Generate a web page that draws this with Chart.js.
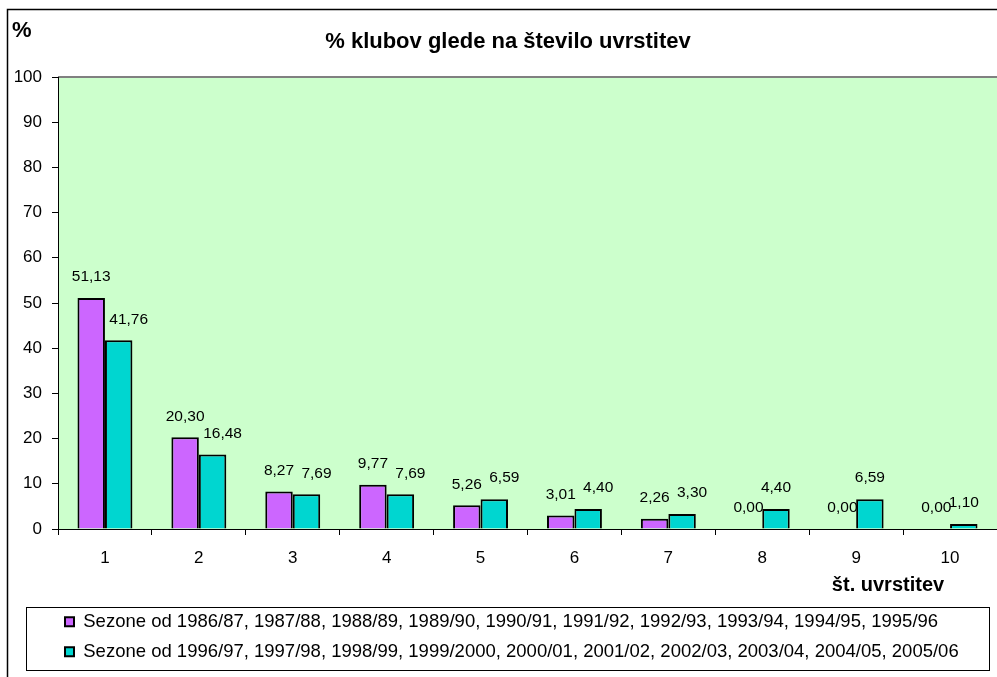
<!DOCTYPE html>
<html>
<head>
<meta charset="utf-8">
<script src="https://cdn.jsdelivr.net/npm/chart.js@4/dist/chart.umd.min.js"></script>
<style>
html,body{margin:0;padding:0;background:#fff;}
canvas{display:block;}
</style>
</head>
<body>
<canvas id="c" width="997" height="677"></canvas>
<script>
// ---- data ----
const categories = ['1','2','3','4','5','6','7','8','9','10'];
const seriesNames = [
  'Sezone od 1986/87, 1987/88, 1988/89, 1989/90, 1990/91, 1991/92, 1992/93, 1993/94, 1994/95, 1995/96',
  'Sezone od 1996/97, 1997/98, 1998/99, 1999/2000, 2000/01, 2001/02, 2002/03, 2003/04, 2004/05, 2005/06'
];
const valuesOlder = [51.13, 20.30, 8.27, 9.77, 5.26, 3.01, 2.26, 0.00, 0.00, 0.00];
const valuesNewer = [41.76, 16.48, 7.69, 7.69, 6.59, 4.40, 3.30, 4.40, 6.59, 1.10];
const yMin = 0, yMax = 100, yStep = 10;
const chartTitle = '% klubov glede na število uvrstitev';
const yAxisTitle = '%';
const xAxisTitle = 'št. uvrstitev';

const FONT = "'Liberation Sans', Arial, sans-serif";
Chart.defaults.font.family = FONT;
Chart.defaults.color = '#000';

const fmt = v => v.toFixed(2).replace('.', ',');

const framePlugin = {
  id: 'frame',
  afterLayout(chart) {
    if (chart.legend) chart.legend.left = 53.5;
    if (chart.titleBlock) chart.titleBlock.left = 19;
  },
  beforeDraw(chart) {
    const {ctx, chartArea: a} = chart;
    ctx.save();
    ctx.fillStyle = '#fff';
    ctx.fillRect(0, 0, chart.width, chart.height);
    ctx.fillStyle = '#CCFFCC';
    ctx.fillRect(a.left, a.top, a.right - a.left, a.bottom - a.top);
    ctx.strokeStyle = '#808080';
    ctx.lineWidth = 2;
    ctx.beginPath();
    ctx.moveTo(a.left, a.top);
    ctx.lineTo(a.right, a.top);
    ctx.stroke();
    // outer frame
    ctx.strokeStyle = '#000';
    ctx.lineWidth = 1.5;
    ctx.beginPath();
    ctx.moveTo(7.5, chart.height);
    ctx.lineTo(7.5, 9.5);
    ctx.lineTo(chart.width, 9.5);
    ctx.stroke();
    ctx.restore();
  },
  afterDatasetsDraw(chart) {
    const ctx = chart.ctx;
    ctx.save();
    ctx.font = '15.5px ' + FONT;
    ctx.fillStyle = '#000';
    ctx.textAlign = 'center';
    ctx.textBaseline = 'middle';
    const first = chart.data.datasets[0].data;
    chart.data.datasets.forEach((ds, i) => {
      const meta = chart.getDatasetMeta(i);
      meta.data.forEach((el, j) => {
        // second-series labels are nudged right when the neighbouring label exists
        const dx = (i === 1 && first[j] > 0) ? 10 : 0;
        ctx.fillText(fmt(ds.data[j]), el.x + dx, el.y - 21);
      });
    });
    ctx.restore();
  },
  afterDraw(chart) {
    const ctx = chart.ctx;
    ctx.save();
    ctx.fillStyle = '#000';
    ctx.textBaseline = 'middle';
    ctx.font = 'bold 22px ' + FONT;
    ctx.textAlign = 'left';
    ctx.fillText(yAxisTitle, 12, 31);
    ctx.font = 'bold 20px ' + FONT;
    ctx.textAlign = 'center';
    ctx.fillText(xAxisTitle, 888, 585);
    // legend frame
    ctx.strokeStyle = '#000';
    ctx.lineWidth = 1;
    ctx.strokeRect(26.5, 607.5, 963, 63);
    ctx.restore();
  }
};

new Chart(document.getElementById('c'), {
  type: 'bar',
  data: {
    labels: categories,
    datasets: [
      { label: seriesNames[0], data: valuesOlder, backgroundColor: '#CC66FF', borderColor: '#000', borderWidth: 2, barPercentage: 1, categoryPercentage: 0.585 },
      { label: seriesNames[1], data: valuesNewer, backgroundColor: '#00D6D0', borderColor: '#000', borderWidth: 2, barPercentage: 1, categoryPercentage: 0.585 }
    ]
  },
  options: {
    responsive: false,
    animation: false,
    devicePixelRatio: 1,
    layout: { padding: { top: 0, left: 0, right: 0, bottom: 6 } },
    plugins: {
      title: { display: true, text: chartTitle, color: '#000', font: { size: 22, weight: 'bold' }, padding: { top: 29, bottom: 21.6 } },
      legend: { display: true, position: 'bottom', align: 'start',
        labels: { boxWidth: 9, boxHeight: 9, padding: 11.5, color: '#000', font: { size: 18.5 } } },
      tooltip: { enabled: false }
    },
    scales: {
      x: {
        grid: { display: true, drawOnChartArea: false, drawTicks: true, tickLength: 6, color: '#000', offset: true },
        border: { display: true, color: '#000', width: 1 },
        ticks: { color: '#000', font: { size: 17 }, padding: 13 },
        afterFit(s) { s.height = 72; }
      },
      y: {
        min: yMin, max: yMax,
        grid: { display: true, drawOnChartArea: false, drawTicks: true, tickLength: 6, color: '#000' },
        border: { display: true, color: '#000', width: 1 },
        ticks: { stepSize: yStep, color: '#000', font: { size: 17 }, padding: 10 },
        afterFit(s) { s.width = 58; }
      }
    }
  },
  plugins: [framePlugin]
});
</script>
</body>
</html>
